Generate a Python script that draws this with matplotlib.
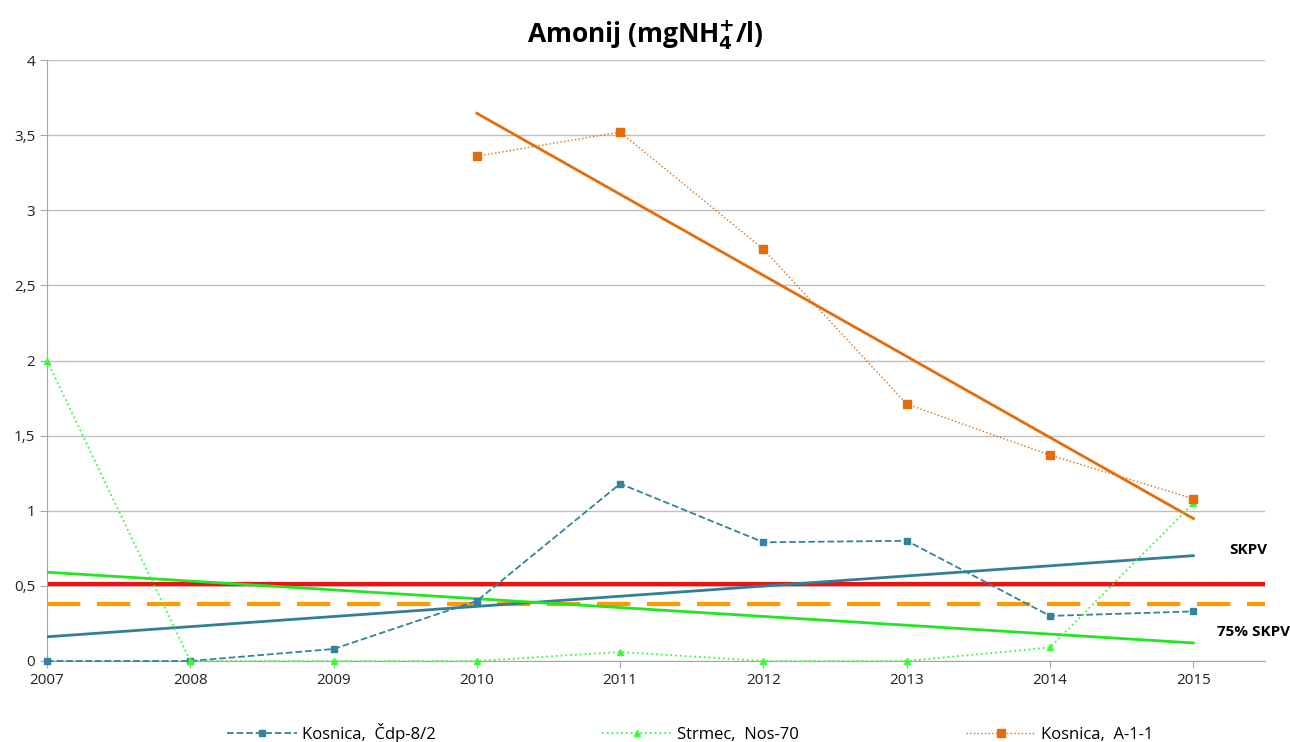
import matplotlib
matplotlib.use('Agg')
import matplotlib.pyplot as plt
import numpy as np
from matplotlib.ticker import FuncFormatter

plt.rcParams['font.family'] = ['Open Sans', 'DejaVu Sans']

years = np.arange(2007, 2016)
cdp = [0, 0, 0.08, 0.40, 1.18, 0.79, 0.80, 0.30, 0.33]
nos = [2.0, 0, 0, 0, 0.06, 0, 0, 0.09, 1.05]
a11_years = np.arange(2010, 2016)
a11 = [3.36, 3.52, 2.74, 1.71, 1.37, 1.08]
skpv = 0.51
skpv75 = 0.75 * skpv

c_blue = '#31849B'
c_blue_tr = '#2F7F96'
c_green = '#33FF33'
c_green_tr = '#22E622'
c_orange = '#E46C0A'
c_orange_tr = '#E46C0A'

fig = plt.figure(figsize=(12.9, 7.42), dpi=100)
ax = fig.add_axes([47/1290, 81/742, (1265-47)/1290, (661-60)/742])

ax.set_ylim(0, 4)
ax.set_xlim(2007, 2015.5)
ax.set_yticks(np.arange(0, 4.01, 0.5))
ax.set_xticks(years)
ax.yaxis.set_major_formatter(FuncFormatter(lambda v, p: ('%g' % v).replace('.', ',')))
ax.grid(axis='y', color='#BFBFBF', lw=1)
ax.set_axisbelow(True)
for s in ['top', 'right']:
    ax.spines[s].set_visible(False)
for s in ['left', 'bottom']:
    ax.spines[s].set_color('#A6A6A6')
ax.tick_params(colors='#A6A6A6', labelcolor='#222222', labelsize=11, length=5)

# reference lines
ax.axhline(skpv, color='#F01010', lw=3, zorder=2)
ax.axhline(skpv75, color='#FF9A00', lw=3, ls=(0, (8, 4)), zorder=2)

# trend lines
def trend(x, y, c):
    k, b = np.polyfit(x, y, 1)
    ax.plot([x[0], x[-1]], [k*x[0]+b, k*x[-1]+b], color=c, lw=2, zorder=3)

trend(years, cdp, c_blue_tr)
trend(years, nos, c_green_tr)
trend(a11_years, a11, c_orange_tr)

l1, = ax.plot(years, cdp, color=c_blue, ls='--', lw=1.3, marker='s', ms=4, zorder=4, clip_on=False,
              label='Kosnica,  Čdp-8/2')
l2, = ax.plot(years, nos, color=c_green, ls=':', lw=1.3, marker='^', ms=5, zorder=4, clip_on=False,
              label='Strmec,  Nos-70')
l3, = ax.plot(a11_years, a11, color=c_orange, ls=':', lw=1, marker='s', ms=6, zorder=5, clip_on=False,
              label='Kosnica,  A-1-1')

ax.text(2015.38, 0.74, 'SKPV', fontsize=11, fontweight='bold', ha='center', va='center')
ax.text(2015.42, 0.19, '75% SKPV', fontsize=11, fontweight='bold', ha='center', va='center',
        clip_on=False)

fig.text(0.5, 0.953, 'Amonij (mgNH$_\\mathbf{4}^{\\mathbf{+}}$/l)', ha='center', va='center',
         fontsize=19, fontweight='bold')

fig.legend(handles=[l1, l2, l3], loc='center', bbox_to_anchor=(0.535, 0.012), ncol=3,
           frameon=False, fontsize=12, handlelength=4.2, columnspacing=10, handletextpad=0.3)

fig.savefig('out.png', dpi=100)
